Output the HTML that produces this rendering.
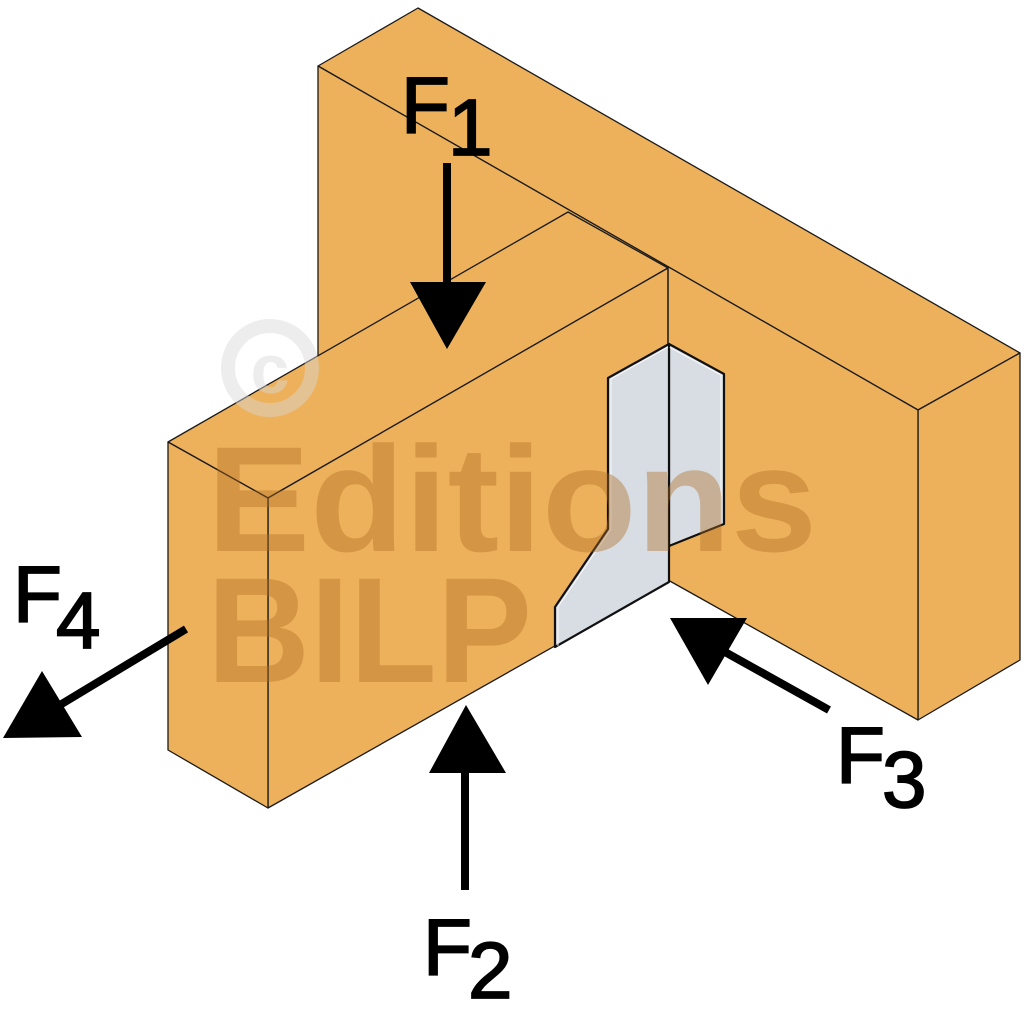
<!DOCTYPE html>
<html><head><meta charset="utf-8"><style>
html,body{margin:0;padding:0;background:#fff;}
svg{display:block;}
text{font-family:"Liberation Sans",Arial,sans-serif;}
</style></head><body>
<svg width="1024" height="1024" viewBox="0 0 1024 1024" xmlns="http://www.w3.org/2000/svg">
<g stroke="#1a1a1a" stroke-width="1.3" stroke-linejoin="round" fill="#edb15c">
  <polygon points="318,66 418,8 1020,353 918,410"/>
  <polygon points="918,410 1020,353 1020,660 918,720"/>
  <polygon points="318,66 918,410 918,720 668,580 318,380"/>
  <polygon points="168,442 568,212 668,268 268,498"/>
  <polygon points="268,498 668,268 668,582 268,808"/>
  <polygon points="168,442 268,498 268,808 168,750"/>
</g>
<line x1="668" y1="268" x2="668" y2="582" stroke="#1a1a1a" stroke-width="1.3"/>
<g stroke="#111" stroke-width="2.2" fill="#d8dde3" stroke-linejoin="round">
  <polygon points="669,344 724,374 724,524 669,546"/>
  <polygon points="669,344 608,378 608,529 555,607 555,647 669,582"/>
</g>
<g stroke="#fff" stroke-width="0.8" fill="none">
  <polyline points="669,347 721,375 721,523"/>
  <polyline points="668,347 611,379 611,529 558,607 558,646"/>
</g>
<line x1="669" y1="344" x2="669" y2="582" stroke="#111" stroke-width="1.6"/>
<g opacity="0.45">
  <circle cx="270" cy="368" r="42" fill="none" stroke="#d8d8d8" stroke-width="14"/>
  <text x="270" y="393" font-size="70" font-weight="bold" fill="#d8d8d8" text-anchor="middle">c</text>
</g>
<g fill="#b06c22" opacity="0.4" font-weight="bold" font-size="150" style="font-family:'DejaVu Sans',sans-serif">
  <text x="207" y="551" textLength="610" lengthAdjust="spacingAndGlyphs">Editions</text>
  <text x="207" y="682" textLength="325" lengthAdjust="spacingAndGlyphs">BILP</text>
</g>
<g fill="#000" stroke="none">
  <rect x="443" y="163" width="8" height="125"/>
  <polygon points="410,282 486,282 447,349"/>
  <rect x="461" y="768" width="8" height="122"/>
  <polygon points="429,773 506,773 466,705"/>
  <polygon points="670,618 747,618 708,685"/>
  <polygon points="42,671 3,738 82,737"/>
</g>
<g stroke="#000" stroke-width="8" stroke-linecap="butt">
  <line x1="829" y1="710" x2="725" y2="652"/>
  <line x1="186" y1="629" x2="55" y2="708"/>
</g>
<g fill="#000" stroke="#000" stroke-width="1.8" font-size="80">
  <text x="401" y="133">F</text><text x="448" y="155">1</text>
  <text x="423" y="975">F</text><text x="468" y="998">2</text>
  <text x="836" y="783">F</text><text x="882" y="807">3</text>
  <text x="13" y="622">F</text><text x="56" y="648">4</text>
</g>
</svg>
</body></html>
